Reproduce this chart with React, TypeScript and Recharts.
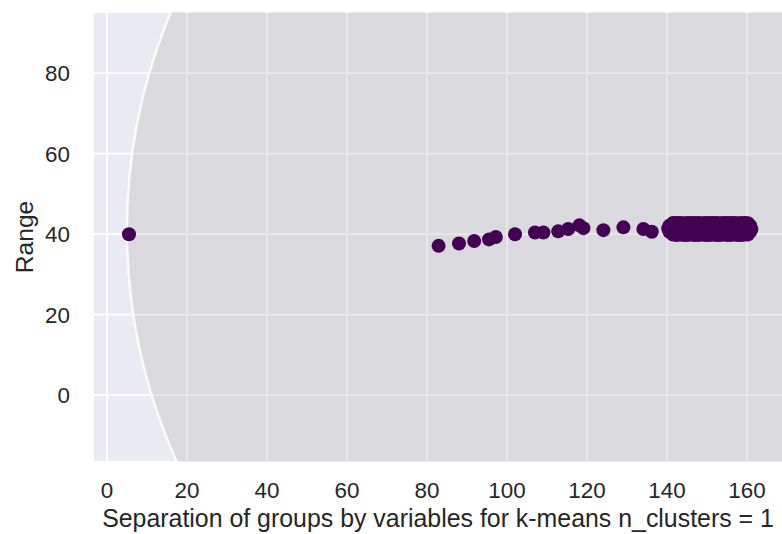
import { ScatterChart, Scatter, XAxis, YAxis, CartesianGrid, Label } from "recharts";

const xTicks = [0, 20, 40, 60, 80, 100, 120, 140, 160];
const yTicks = [0, 20, 40, 60, 80];

// cluster centre (drawn as the big translucent disc)
const centreX = [146];
const centreY = [41];

// lone point on the far left
const outlierX = [5.5];
const outlierY = [40.0];

// the trail of points leading into the dense group
const trailX = [82.9, 88.0, 91.8, 95.5, 97.2, 102.0, 107.0, 109.1, 112.8, 115.3, 118.1, 119.1, 124.1, 129.1, 134.1, 136.2];
const trailY = [37.1, 37.7, 38.3, 38.7, 39.3, 40.0, 40.4, 40.4, 40.7, 41.3, 42.2, 41.5, 41.0, 41.7, 41.3, 40.6];

// dense group on the right
const blobX = [
  141.5, 142.4, 143.3, 144.2, 145.1, 146.0, 146.9, 147.8, 148.7, 149.6, 150.5, 151.4, 152.3, 153.2, 154.1, 155.0, 155.9, 156.8, 157.7, 158.6, 159.5, 160.2,
  140.6, 141.7, 142.9, 144.1, 145.3, 146.5, 147.7, 148.9, 150.1, 151.3, 152.5, 153.7, 154.9, 156.1, 157.3, 158.5, 159.7, 160.8,
  140.3, 141.5, 142.7, 143.9, 145.1, 146.3, 147.5, 148.7, 149.9, 151.1, 152.3, 153.5, 154.7, 155.9, 157.1, 158.3, 159.5, 160.7, 161.1,
  140.6, 141.7, 142.9, 144.1, 145.3, 146.5, 147.7, 148.9, 150.1, 151.3, 152.5, 153.7, 154.9, 156.1, 157.3, 158.5, 159.7, 160.8,
  141.5, 142.4, 143.3, 144.2, 145.1, 146.0, 146.9, 147.8, 148.7, 149.6, 150.5, 151.4, 152.3, 153.2, 154.1, 155.0, 155.9, 156.8, 157.7, 158.6, 159.5, 160.2,
];
const blobY = [
  42.8, 42.8, 42.8, 42.7, 42.8, 42.8, 42.8, 42.8, 42.7, 42.8, 42.8, 42.8, 42.8, 42.7, 42.8, 42.8, 42.8, 42.8, 42.7, 42.8, 42.8, 42.7,
  42.1, 42.1, 42.0, 42.1, 42.1, 42.1, 42.0, 42.1, 42.1, 42.1, 42.0, 42.1, 42.1, 42.1, 42.0, 42.1, 42.1, 42.1,
  41.4, 41.3, 41.4, 41.3, 41.4, 41.3, 41.4, 41.3, 41.4, 41.3, 41.4, 41.3, 41.4, 41.3, 41.4, 41.3, 41.4, 41.3, 41.3,
  40.6, 40.5, 40.6, 40.5, 40.6, 40.5, 40.6, 40.5, 40.6, 40.5, 40.6, 40.5, 40.6, 40.5, 40.6, 40.5, 40.6, 40.6,
  39.9, 39.8, 39.9, 39.8, 39.8, 39.9, 39.8, 39.8, 39.9, 39.8, 39.8, 39.9, 39.8, 39.8, 39.9, 39.8, 39.8, 39.9, 39.8, 39.8, 39.9, 39.9,
];

const zip = (xs: number[], ys: number[]) => xs.map((x, i) => ({ x, y: ys[i] }));

const centreData = zip(centreX, centreY);
const pointData = [...zip(outlierX, outlierY), ...zip(trailX, trailY), ...zip(blobX, blobY)];

const FONT = "'Liberation Sans', Arial, sans-serif";
const TEXT = "#262626";

const Disc = (props: any) => (
  <circle
    cx={props.cx}
    cy={props.cy}
    r={564}
    fill="rgb(150,150,145)"
    fillOpacity={0.2}
    stroke="#ffffff"
    strokeOpacity={0.85}
    strokeWidth={2.5}
  />
);

const Dot = (props: any) => <circle cx={props.cx} cy={props.cy} r={7} fill="#440154" />;

export default function App() {
  return (
    <div
      style={{
        position: "absolute",
        left: 0,
        top: 0,
        width: 782,
        height: 534,
        overflow: "hidden",
        background: "#ffffff",
        fontFamily: FONT,
      }}
    >
      <ScatterChart width={790} height={534} margin={{ top: 12, right: 7, bottom: 0, left: 0 }}>
        <CartesianGrid fill="#EAEAF2" fillOpacity={1} stroke="#ffffff" strokeWidth={1.8} />
        <XAxis
          type="number"
          dataKey="x"
          domain={[-3.5, 169]}
          ticks={xTicks}
          allowDataOverflow
          axisLine={false}
          tickLine={false}
          tickSize={6}
          tickMargin={14}
          height={72}
          tick={{ fill: TEXT, fontSize: 22.4, fontFamily: FONT }}
        >
          <Label
            value="Separation of groups by variables for k-means n_clusters = 1"
            position="insideBottom"
            offset={7}
            style={{ fill: TEXT, fontSize: 24.9, fontFamily: FONT }}
          />
        </XAxis>
        <YAxis
          type="number"
          dataKey="y"
          domain={[-16.6, 95.2]}
          ticks={yTicks}
          allowDataOverflow
          axisLine={false}
          tickLine={false}
          tickSize={6}
          tickMargin={17}
          width={93}
          tick={{ fill: TEXT, fontSize: 22.4, fontFamily: FONT }}
        >
          <Label
            value="Range"
            angle={-90}
            position="insideLeft"
            offset={24.5}
            style={{ fill: TEXT, fontSize: 24.6, fontFamily: FONT, textAnchor: "middle" }}
          />
        </YAxis>
        <Scatter data={centreData} shape={Disc} isAnimationActive={false} />
        <Scatter data={pointData} shape={Dot} isAnimationActive={false} />
      </ScatterChart>
    </div>
  );
}
